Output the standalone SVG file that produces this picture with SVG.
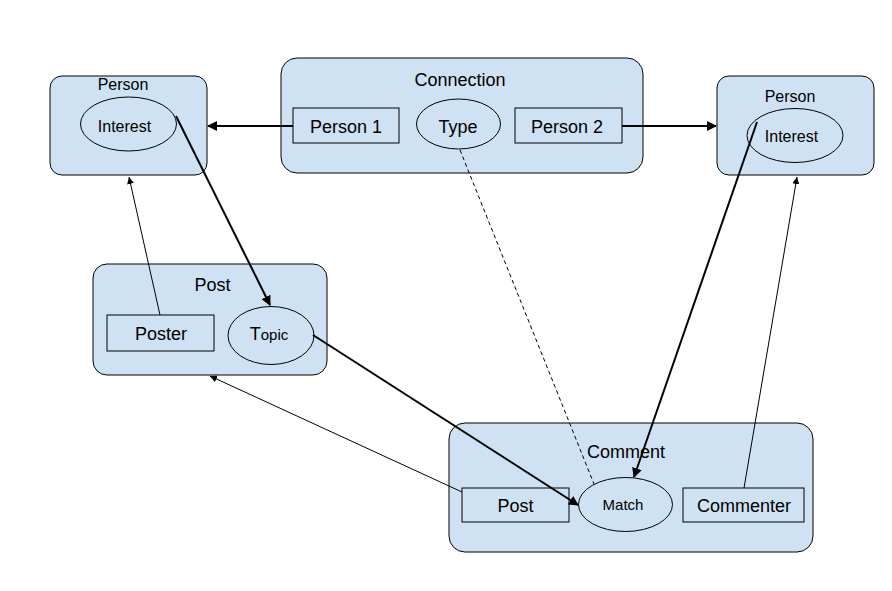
<svg xmlns="http://www.w3.org/2000/svg" width="892" height="591" viewBox="0 0 892 591">
<style>
.box{fill:#cfe2f3;stroke:#000;stroke-width:1}
.in{fill:#cfe2f3;stroke:#000;stroke-width:1}
text{font-family:"Liberation Sans",Arial,sans-serif;fill:#000;text-anchor:middle}
.t18{font-size:18px}
.t16{font-size:16px}
.t15{font-size:15px}
.thick{stroke:#000;stroke-width:2;fill:none}
.thin{stroke:#000;stroke-width:1;fill:none}
</style>
<defs>
<marker id="ah" markerWidth="10" markerHeight="10" refX="9" refY="5" orient="auto" markerUnits="userSpaceOnUse" viewBox="0 0 10 10">
<path d="M0,0 L10,5 L0,10 z" fill="#000"/>
</marker>
<marker id="as" markerWidth="7" markerHeight="7" refX="7" refY="3.5" orient="auto" markerUnits="userSpaceOnUse" viewBox="0 0 7 7">
<path d="M0,0 L7,3.5 L0,7 z" fill="#000"/>
</marker>
</defs>
<rect width="892" height="591" fill="#fff"/>
<g id="person-left">
<rect class="box" x="50" y="76" width="157" height="99" rx="12"/>
<text class="t16" x="123" y="90">Person</text>
<ellipse class="in" cx="128.5" cy="124" rx="48" ry="27"/>
<text class="t16" x="124.5" y="132">Interest</text>
</g>
<g id="connection">
<rect class="box" x="281" y="58" width="362" height="115" rx="16"/>
<text class="t18" x="460" y="86">Connection</text>
<rect class="in" x="293" y="108" width="106" height="35"/>
<text class="t18" x="346" y="133">Person 1</text>
<ellipse class="in" cx="458.5" cy="124" rx="42" ry="25"/>
<text class="t18" x="458" y="133">Type</text>
<rect class="in" x="515" y="108" width="107" height="35"/>
<text class="t18" x="567" y="133">Person 2</text>
</g>
<g id="person-right">
<rect class="box" x="717" y="76" width="157" height="99" rx="12"/>
<text class="t16" x="790" y="102">Person</text>
<ellipse class="in" cx="795" cy="135.5" rx="48" ry="27"/>
<text class="t16" x="791.5" y="142">Interest</text>
</g>
<g id="post">
<rect class="box" x="93" y="264" width="234" height="111" rx="14"/>
<text class="t18" x="212.5" y="291">Post</text>
<rect class="in" x="107" y="315" width="107" height="36"/>
<text class="t18" x="161" y="340">Poster</text>
<ellipse class="in" cx="271" cy="335.5" rx="43" ry="29"/>
<text x="269" y="340"><tspan style="font-size:18px">T</tspan><tspan style="font-size:15px">opic</tspan></text>
</g>
<g id="comment">
<rect class="box" x="449" y="423" width="364" height="129" rx="16"/>
<text class="t18" x="626" y="458">Comment</text>
<rect class="in" x="462" y="488" width="107" height="34"/>
<text class="t18" x="515.5" y="512">Post</text>
<ellipse class="in" cx="625.5" cy="504.5" rx="47" ry="27"/>
<text class="t15" x="623" y="510">Match</text>
<rect class="in" x="683" y="488" width="121" height="34"/>
<text class="t18" x="744" y="512">Commenter</text>
</g>
<g id="connectors">
<line class="thick" x1="293" y1="126" x2="208" y2="126" marker-end="url(#ah)"/>
<line class="thick" x1="622" y1="126" x2="716" y2="126" marker-end="url(#ah)"/>
<line class="thick" x1="176" y1="116" x2="270" y2="305" marker-end="url(#ah)"/>
<line class="thick" x1="313" y1="335" x2="578" y2="505" marker-end="url(#ah)"/>
<line class="thick" x1="757" y1="122" x2="634" y2="477" marker-end="url(#ah)"/>
<line class="thin" x1="460" y1="150" x2="594" y2="484" stroke-dasharray="4,3"/>
<line class="thin" x1="160" y1="315" x2="129" y2="177" marker-end="url(#as)"/>
<line class="thin" x1="462" y1="492" x2="210" y2="376" marker-end="url(#as)"/>
<line class="thin" x1="744" y1="488" x2="797" y2="177" marker-end="url(#as)"/>
</g>
</svg>
